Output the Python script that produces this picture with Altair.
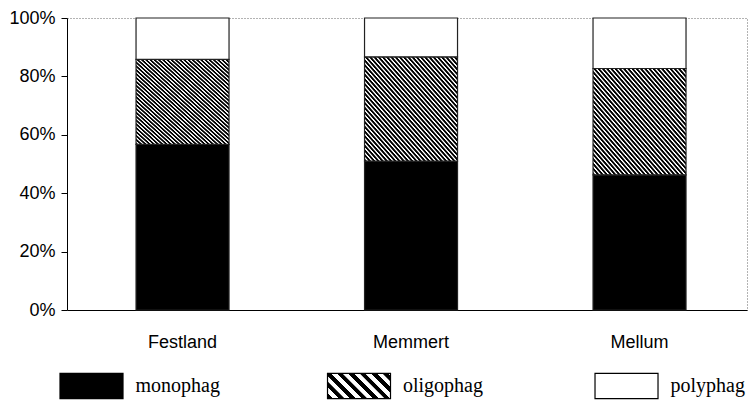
import altair as alt
import pandas as pd

# ---- data ----
sites = ["Festland", "Memmert", "Mellum"]
types = ["monophag", "oligophag", "polyphag"]
monophag = [56.7, 51.0, 46.3]
oligophag = [29.1, 35.7, 36.4]
polyphag = [14.2, 13.3, 17.3]
y_ticks = [0, 20, 40, 60, 80, 100]

rows = []
for i, s in enumerate(sites):
    for k, (t, vals) in enumerate(zip(types, [monophag, oligophag, polyphag])):
        rows.append({"site": s, "type": t, "value": vals[i], "ord": k})
df = pd.DataFrame(rows)
legend_df = pd.DataFrame({"type": types})


def stripes(n, frac, soft):
    """Hatch pattern as a striped linear gradient (style only)."""
    stops = []
    for i in range(n):
        a = i / n
        b = (i + frac) / n
        c = (i + 1) / n
        e = soft / n
        stops += [
            {"offset": a + e, "color": "black"},
            {"offset": b - e, "color": "black"},
            {"offset": b + e, "color": "white"},
            {"offset": c - e, "color": "white"},
        ]
    return stops


bar_grad = {"gradient": "linear", "x1": 0, "y1": 1, "x2": 1, "y2": 0,
            "stops": stripes(44, 0.58, 0.1)}
legend_grad = {"gradient": "linear", "x1": 0, "y1": 1, "x2": 1.252, "y2": 0.5,
               "stops": stripes(8, 0.5, 0.02)}

fill_scale = alt.Scale(domain=types, range=["black", "#555", "white"])

bars = alt.Chart(df).mark_bar(stroke="#222", strokeWidth=1.2).encode(
    x=alt.X("site:N", sort=sites,
            scale=alt.Scale(paddingInner=0.593, paddingOuter=0.2845, align=0.531),
            axis=alt.Axis(title=None, labelAngle=0, ticks=False, tickSize=0,
                          labelPadding=23, labelFontSize=18,
                          labelFont="Liberation Sans", labelColor="black",
                          domainColor="black", domainWidth=1)),
    y=alt.Y("value:Q", stack="zero",
            scale=alt.Scale(domain=[0, 100], nice=False),
            axis=alt.Axis(title=None, values=y_ticks,
                          labelExpr="datum.value + '%'", grid=False,
                          tickSize=6, tickColor="black", labelPadding=6,
                          domainColor="black", labelFontSize=18,
                          labelFont="Liberation Sans", labelColor="black")),
    fill=alt.condition("datum.type === 'oligophag'", alt.value(bar_grad),
                       alt.Fill("type:N", scale=fill_scale, legend=None)),
    order=alt.Order("ord:Q"),
)

legend_x = alt.X("type:N", sort=types, axis=None,
                 scale=alt.Scale(type="point", padding=0.271, align=0.169))

swatches = alt.Chart(legend_df).mark_point(
    shape="M-1,-0.4H1V0.4H-1Z", size=3969, filled=True, opacity=1,
    stroke="black", strokeWidth=1.2,
).encode(
    x=legend_x,
    y=alt.value(368),
    fill=alt.condition("datum.type === 'oligophag'", alt.value(legend_grad),
                       alt.Fill("type:N", scale=fill_scale, legend=None)),
)

labels = alt.Chart(legend_df).mark_text(
    align="left", baseline="middle", dx=44, font="Liberation Serif",
    fontSize=20, color="black",
).encode(
    x=legend_x,
    y=alt.value(368),
    text="type:N",
)

chart = alt.layer(bars, swatches, labels).resolve_scale(
    x="independent"
).properties(
    width=680,
    height=292,
    autosize=alt.AutoSizeParams(type="none"),
    padding={"left": 59, "top": 10, "right": 1, "bottom": 91},
    background="white",
).configure_view(
    stroke="#666", strokeDash=[1, 2], strokeWidth=1
)

chart.save("out.html", embed_options={"renderer": "svg", "actions": False})
